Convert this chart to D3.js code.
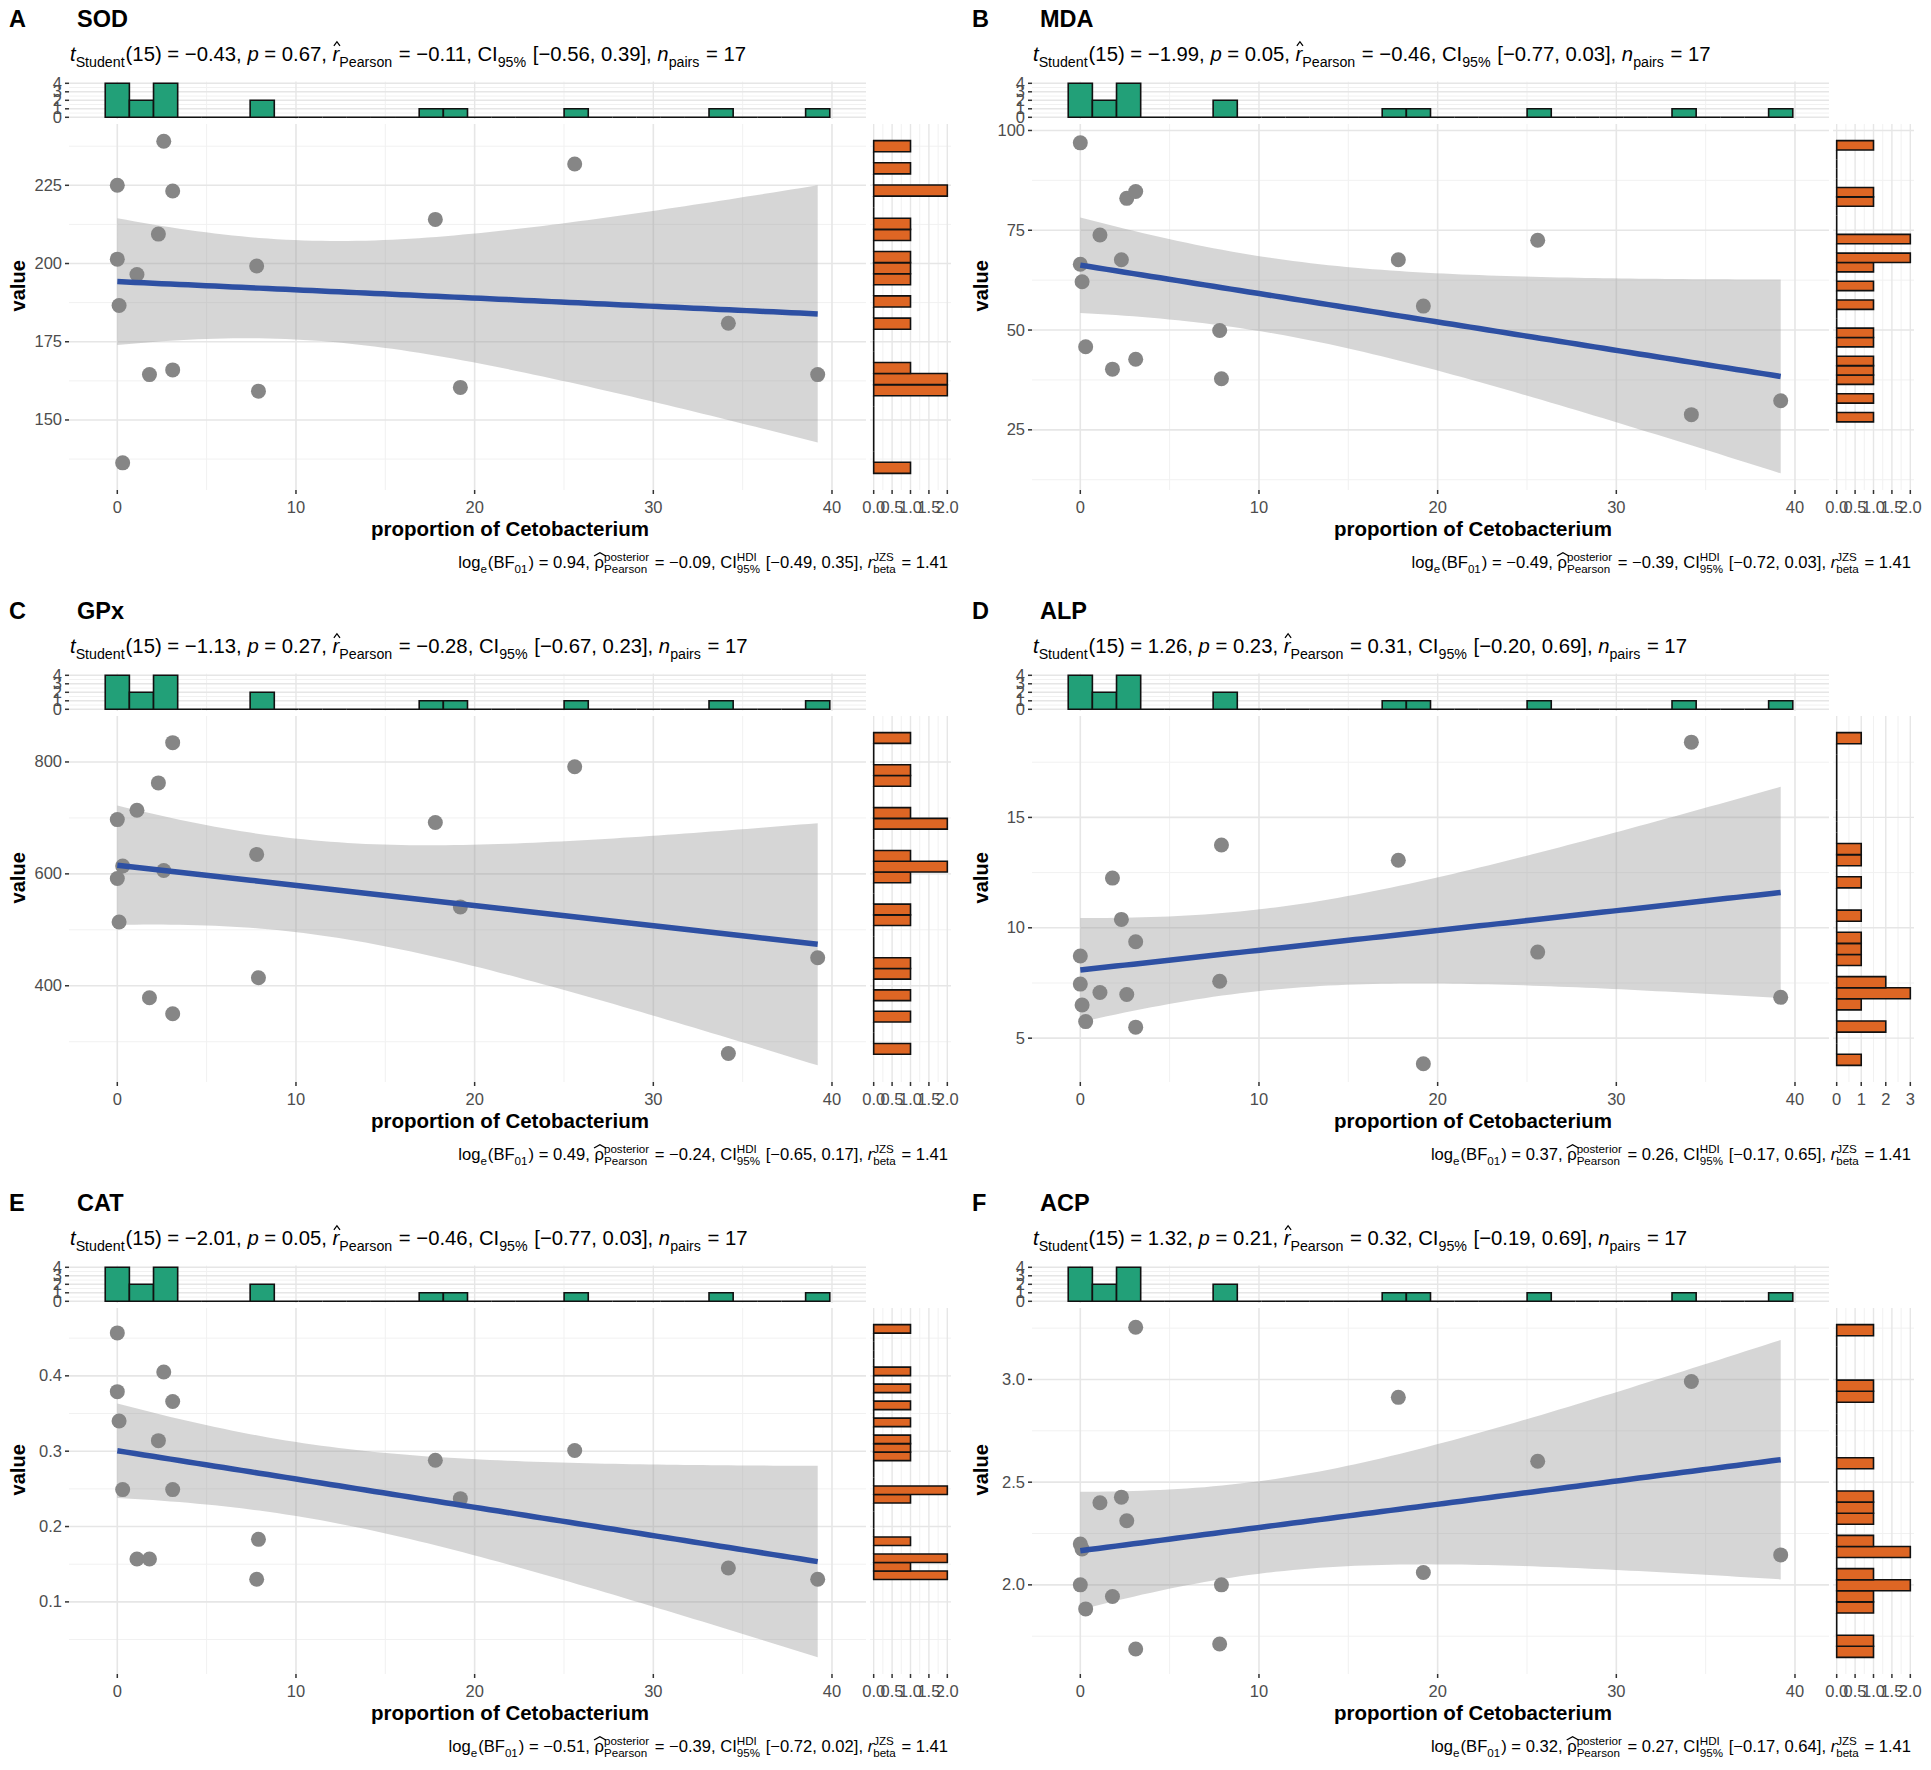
<!DOCTYPE html>
<html>
<head>
<meta charset="utf-8">
<script src="https://cdn.jsdelivr.net/npm/d3@7"></script>
<style>
  body { margin: 0; background: #fff; }
  text { font-family: "Liberation Sans", Arial, sans-serif; white-space: pre; }
</style>
</head>
<body>
<svg id="chart" width="1931" height="1770"></svg>
<script>
// shared x values: proportion of Cetobacterium for the 17 samples
var proportion = [0, 0, 0.1, 0.3, 1.1, 1.8, 2.3, 2.6, 3.1, 3.1, 7.8, 7.9, 17.8, 19.2, 25.6, 34.2, 39.2];

// y values per panel, same sample order as proportion
var sod = [225.0, 201.4, 186.6, 136.3, 196.5, 164.5, 209.4, 239.1, 223.2, 166.0, 199.2, 159.2, 214.1, 160.4, 231.8, 180.9, 164.5];
var mda = [96.9, 66.5, 62.1, 45.8, 73.8, 40.2, 67.6, 83.0, 84.7, 42.7, 49.9, 37.8, 67.6, 56.0, 72.5, 28.8, 32.3];
var gpx = [697.0, 591.7, 514, 614, 713.7, 378.7, 762.6, 606, 834.5, 350, 634.8, 414.4, 691.8, 541, 791.4, 279, 450];
var alp = [8.72, 7.45, 6.50, 5.75, 7.07, 12.25, 10.38, 6.98, 9.37, 5.50, 7.58, 13.75, 13.06, 3.84, 8.90, 18.41, 6.85];
var cat = [0.457, 0.379, 0.340, 0.249, 0.157, 0.157, 0.314, 0.405, 0.366, 0.249, 0.130, 0.183, 0.288, 0.237, 0.301, 0.145, 0.130];
var acp = [2.199, 2.0, 2.175, 1.883, 2.400, 1.943, 2.427, 2.312, 3.254, 1.688, 1.712, 2.0, 2.913, 2.060, 2.602, 2.99, 2.146];

var panelValues = [sod, mda, gpx, alp, cat, acp];
var panelLetters = ["A", "B", "C", "D", "E", "F"];
var panelNames = ["SOD", "MDA", "GPx", "ALP", "CAT", "ACP"];

// frequentist subtitle stats
var tValues = [-0.43, -1.99, -1.13, 1.26, -2.01, 1.32];
var pValues = [0.67, 0.05, 0.27, 0.23, 0.05, 0.21];
var rValues = [-0.11, -0.46, -0.28, 0.31, -0.46, 0.32];
var ciLow = [-0.56, -0.77, -0.67, -0.20, -0.77, -0.19];
var ciHigh = [0.39, 0.03, 0.23, 0.69, 0.03, 0.69];

// bayesian caption stats
var bfValues = [0.94, -0.49, 0.49, 0.37, -0.51, 0.32];
var rhoValues = [-0.09, -0.39, -0.24, 0.26, -0.39, 0.27];
var hdiLow = [-0.49, -0.72, -0.65, -0.17, -0.72, -0.17];
var hdiHigh = [0.35, 0.03, 0.17, 0.65, 0.02, 0.64];

// axis ticks
var xTicks = [0, 10, 20, 30, 40];
var yTicks = [[150, 175, 200, 225], [25, 50, 75, 100], [400, 600, 800], [5, 10, 15], [0.1, 0.2, 0.3, 0.4], [2.0, 2.5, 3.0]];
var yTickLabels = [["150", "175", "200", "225"], ["25", "50", "75", "100"], ["400", "600", "800"], ["5", "10", "15"],
                   ["0.1", "0.2", "0.3", "0.4"], ["2.0", "2.5", "3.0"]];
var topCountTicks = [0, 1, 2, 3, 4];
var rightCountTicks = [[0, 0.5, 1, 1.5, 2], [0, 0.5, 1, 1.5, 2], [0, 0.5, 1, 1.5, 2], [0, 1, 2, 3], [0, 0.5, 1, 1.5, 2], [0, 0.5, 1, 1.5, 2]];
var rightCountLabels = [["0.0", "0.5", "1.0", "1.5", "2.0"], ["0.0", "0.5", "1.0", "1.5", "2.0"], ["0.0", "0.5", "1.0", "1.5", "2.0"],
                        ["0", "1", "2", "3"], ["0.0", "0.5", "1.0", "1.5", "2.0"], ["0.0", "0.5", "1.0", "1.5", "2.0"]];

var xLabel = "proportion of Cetobacterium";
var yLabel = "value";

var green = "#22a078", orange = "#de6624", pointGrey = "#868686", lineBlue = "#2e50a3";
var gridMajor = "#e6e6e6", gridMinor = "#f1f1f1", tickGrey = "#4d4d4d";

var svg = d3.select("#chart");
svg.append("rect").attr("width", 1931).attr("height", 1770).attr("fill", "#fff");

// layout inside one panel
var L = { left: 69, right: 866, top: 124, bottom: 490, topHistTop: 81.6, topHistBottom: 119, rhLeft: 870, rhRight: 951 };

function fmt(v) { return d3.format(".2f")(v).replace("-", "\u2212"); }

// ggplot2 style bins (bins = 30)
function ggBins(vals) {
  var lo = d3.min(vals), hi = d3.max(vals);
  var w = (hi - lo) / 29;
  var origin = w / 2 + Math.floor((lo - w / 2) / w) * w;
  var edges = [];
  for (var e = origin; e <= hi + (1 - 1e-8) * w; e += w) edges.push(e);
  var bins = [];
  for (var k = 0; k < edges.length - 1; k++) bins.push({ x0: edges[k], x1: edges[k + 1], n: 0 });
  vals.forEach(function (v) {
    var idx = Math.ceil((v - origin) / w - 1e-9) - 1;
    idx = Math.max(0, Math.min(bins.length - 1, idx));
    bins[idx].n += 1;
  });
  return bins;
}

// linear model with 95% confidence band, like geom_smooth(method = "lm")
function fitLm(xs, ys) {
  var n = xs.length, mx = d3.mean(xs), my = d3.mean(ys);
  var sxx = d3.sum(xs, function (x) { return (x - mx) * (x - mx); });
  var sxy = d3.sum(xs, function (x, k) { return (x - mx) * (ys[k] - my); });
  var b = sxy / sxx, a = my - b * mx;
  var sse = d3.sum(xs, function (x, k) { var r = ys[k] - a - b * x; return r * r; });
  var s = Math.sqrt(sse / (n - 2));
  var tq = 2.1314; // qt(0.975, 15)
  var x0 = d3.min(xs), x1 = d3.max(xs);
  return d3.range(80).map(function (k) {
    var xv = x0 + k * (x1 - x0) / 79;
    var yh = a + b * xv;
    var se = s * Math.sqrt(1 / n + (xv - mx) * (xv - mx) / sxx);
    return { x: xv, y: yh, lo: yh - tq * se, hi: yh + tq * se };
  });
}

function minors(ticks, domain) {
  var step = ticks[1] - ticks[0], out = [];
  for (var k = -1; k < ticks.length; k++) {
    var m = ticks[0] + step * (k + 0.5);
    if (m >= domain[0] && m <= domain[1]) out.push(m);
  }
  return out;
}

function expand(ext) {
  var d = (ext[1] - ext[0]) * 0.05;
  return [ext[0] - d, ext[1] + d];
}

// text built from pieces: normal, italic, sub, sup/sub stacked, hatted
function richText(g, parts, x, y, size, anchor) {
  var grp = g.append("g");
  var cx = 0, small = size * 0.7;
  parts.forEach(function (p) {
    var kind = p[1] || "n";
    if (kind === "supsub") {
      var a = grp.append("text").attr("x", cx).attr("y", y - size * 0.45).attr("font-size", small).text(p[0]);
      var b = grp.append("text").attr("x", cx).attr("y", y + size * 0.3).attr("font-size", small).text(p[2]);
      cx += Math.max(a.node().getComputedTextLength(), b.node().getComputedTextLength()) + 1;
    } else if (kind === "sub") {
      var t = grp.append("text").attr("x", cx).attr("y", y + size * 0.3).attr("font-size", small).text(p[0]);
      cx += t.node().getComputedTextLength() + 1;
    } else {
      var t2 = grp.append("text").attr("x", cx).attr("y", y).attr("font-size", size).text(p[0]);
      if (kind === "i" || kind === "ihat") t2.attr("font-style", "italic");
      var w = t2.node().getComputedTextLength();
      if (kind === "ihat" || kind === "hat") {
        var hx0 = cx + (kind === "ihat" ? w * 0.2 : -w * 0.05), hx1 = cx + w * (kind === "ihat" ? 1.1 : 1.2);
        var ht = y - size * (kind === "ihat" ? 0.95 : 0.92);
        grp.append("path")
          .attr("d", "M" + hx0 + "," + (ht + size * 0.2) + "L" + ((hx0 + hx1) / 2) + "," + ht + "L" + hx1 + "," + (ht + size * 0.2))
          .attr("fill", "none").attr("stroke", "#000").attr("stroke-width", 1.3);
      }
      cx += w;
    }
  });
  var shift = anchor === "end" ? x - cx : x;
  grp.attr("transform", "translate(" + shift + ",0)");
  return grp;
}

function histPath(x0, y0, x1, y1) {
  return "M" + x0 + "," + y0 + "H" + x1 + "V" + y1 + "H" + x0 + "Z";
}

function drawPanel(i) {
  var ox = (i % 2) * 963, oy = Math.floor(i / 2) * 592;
  var g = svg.append("g").attr("transform", "translate(" + ox + "," + oy + ")");
  var ys = panelValues[i];

  var fit = fitLm(proportion, ys);
  var xBins = ggBins(proportion), yBins = ggBins(ys);

  var xDomain = expand([Math.min(d3.min(proportion), xBins[0].x0), Math.max(d3.max(proportion), xBins[xBins.length - 1].x1)]);
  var yLo = Math.min(d3.min(ys), d3.min(fit, function (d) { return d.lo; }), yBins[0].x0);
  var yHi = Math.max(d3.max(ys), d3.max(fit, function (d) { return d.hi; }), yBins[yBins.length - 1].x1);
  var yDomain = expand([yLo, yHi]);

  var x = d3.scaleLinear().domain(xDomain).range([L.left, L.right]);
  var y = d3.scaleLinear().domain(yDomain).range([L.bottom, L.top]);
  var topDomain = expand([0, 4]);
  var yTop = d3.scaleLinear().domain(topDomain).range([L.topHistBottom, L.topHistTop]);
  var rTicks = rightCountTicks[i];
  var rDomain = expand([0, rTicks[rTicks.length - 1]]);
  var xRight = d3.scaleLinear().domain(rDomain).range([L.rhLeft, L.rhRight]);

  var yt = yTicks[i];

  // ---- grid lines
  var grid = g.append("g");
  function vLines(vals, sc, y0, y1, col, w) {
    grid.selectAll(null).data(vals).enter().append("line")
      .attr("x1", sc).attr("x2", sc).attr("y1", y0).attr("y2", y1)
      .attr("stroke", col).attr("stroke-width", w);
  }
  function hLines(vals, sc, x0, x1, col, w) {
    grid.selectAll(null).data(vals).enter().append("line")
      .attr("y1", sc).attr("y2", sc).attr("x1", x0).attr("x2", x1)
      .attr("stroke", col).attr("stroke-width", w);
  }
  var xMin = minors(xTicks, xDomain), yMin = minors(yt, yDomain);
  // main panel
  vLines(xMin, x, L.top, L.bottom, gridMinor, 1);
  hLines(yMin, y, L.left, L.right, gridMinor, 1);
  vLines(xTicks, x, L.top, L.bottom, gridMajor, 1.6);
  hLines(yt, y, L.left, L.right, gridMajor, 1.6);
  // top histogram
  vLines(xMin, x, L.topHistTop, L.topHistBottom, gridMinor, 1);
  hLines(minors(topCountTicks, topDomain), yTop, L.left, L.right, gridMinor, 1);
  vLines(xTicks, x, L.topHistTop, L.topHistBottom, gridMajor, 1.4);
  hLines(topCountTicks, yTop, L.left, L.right, gridMajor, 1.4);
  // right histogram
  vLines(minors(rTicks, rDomain), xRight, L.top, L.bottom, gridMinor, 1);
  hLines(yMin, y, L.rhLeft, L.rhRight, gridMinor, 1);
  vLines(rTicks, xRight, L.top, L.bottom, gridMajor, 1.4);
  hLines(yt, y, L.rhLeft, L.rhRight, gridMajor, 1.4);

  // ---- marginal histograms
  g.append("g").selectAll("path").data(xBins).enter().append("path")
    .attr("d", function (d) { return histPath(x(d.x0), yTop(0), x(d.x1), yTop(d.n)); })
    .attr("fill", green).attr("stroke", "#111").attr("stroke-width", 1.6);

  g.append("g").selectAll("path").data(yBins).enter().append("path")
    .attr("d", function (d) { return histPath(xRight(0), y(d.x0), xRight(d.n), y(d.x1)); })
    .attr("fill", orange).attr("stroke", "#111").attr("stroke-width", 1.6);

  // ---- confidence band, points, fit line
  g.append("path").datum(fit)
    .attr("d", d3.area().x(function (d) { return x(d.x); }).y0(function (d) { return y(d.lo); }).y1(function (d) { return y(d.hi); }))
    .attr("fill", "#999").attr("fill-opacity", 0.4);

  g.append("g").selectAll("circle").data(ys).enter().append("circle")
    .attr("cx", function (d, k) { return x(proportion[k]); })
    .attr("cy", function (d) { return y(d); })
    .attr("r", 7.5)
    .attr("fill", pointGrey);

  g.append("path").datum(fit)
    .attr("d", d3.line().x(function (d) { return x(d.x); }).y(function (d) { return y(d.y); }))
    .attr("fill", "none").attr("stroke", lineBlue).attr("stroke-width", 5.5);

  // ---- axes
  var axes = g.append("g").attr("fill", tickGrey).attr("font-size", 16.5);
  axes.selectAll(".xt").data(xTicks).enter().append("line")
    .attr("x1", x).attr("x2", x).attr("y1", L.bottom).attr("y2", L.bottom + 4).attr("stroke", "#333").attr("stroke-width", 1.5);
  axes.selectAll(".xl").data(xTicks).enter().append("text")
    .attr("x", x).attr("y", L.bottom + 23).attr("text-anchor", "middle").text(function (d) { return d; });

  axes.selectAll(".rt").data(rTicks).enter().append("line")
    .attr("x1", xRight).attr("x2", xRight).attr("y1", L.bottom).attr("y2", L.bottom + 4).attr("stroke", "#333").attr("stroke-width", 1.5);
  axes.selectAll(".rl").data(rTicks).enter().append("text")
    .attr("x", xRight).attr("y", L.bottom + 23).attr("text-anchor", "middle").text(function (d, k) { return rightCountLabels[i][k]; });

  axes.selectAll(".yt").data(yt).enter().append("line")
    .attr("x1", L.left - 4).attr("x2", L.left).attr("y1", y).attr("y2", y).attr("stroke", "#333").attr("stroke-width", 1.5);
  axes.selectAll(".yl").data(yt).enter().append("text")
    .attr("x", L.left - 7).attr("y", function (d) { return y(d) + 5.5; }).attr("text-anchor", "end")
    .text(function (d, k) { return yTickLabels[i][k]; });

  axes.selectAll(".tt").data(topCountTicks).enter().append("line")
    .attr("x1", L.left - 4).attr("x2", L.left).attr("y1", yTop).attr("y2", yTop).attr("stroke", "#333").attr("stroke-width", 1.5);
  axes.selectAll(".tl").data(topCountTicks).enter().append("text")
    .attr("x", L.left - 7).attr("y", function (d) { return yTop(d) + 5.5; }).attr("text-anchor", "end")
    .text(function (d) { return d; });

  // axis titles
  g.append("text").attr("x", (L.left + L.rhRight) / 2).attr("y", 536).attr("text-anchor", "middle")
    .attr("font-size", 20.5).attr("font-weight", "bold").text(xLabel);
  g.append("text").attr("transform", "translate(25," + ((L.topHistTop + L.bottom) / 2) + ") rotate(-90)")
    .attr("text-anchor", "middle").attr("font-size", 20).attr("font-weight", "bold").text(yLabel);

  // ---- titles
  g.append("text").attr("x", 9).attr("y", 27).attr("font-size", 23.5).attr("font-weight", "bold").text(panelLetters[i]);
  g.append("text").attr("x", 77).attr("y", 27).attr("font-size", 23.5).attr("font-weight", "bold").text(panelNames[i]);

  richText(g, [
    ["t", "i"], ["Student", "sub"], ["(15) = " + fmt(tValues[i]) + ", "],
    ["p", "i"], [" = " + fmt(pValues[i]) + ", "],
    ["r", "ihat"], ["Pearson", "sub"], [" = " + fmt(rValues[i]) + ", CI"], ["95%", "sub"],
    [" [" + fmt(ciLow[i]) + ", " + fmt(ciHigh[i]) + "], "],
    ["n", "i"], ["pairs", "sub"], [" = " + proportion.length]
  ], 70, 61, 20.3, "start");

  richText(g, [
    ["log"], ["e", "sub"], ["(BF"], ["01", "sub"], [") = " + fmt(bfValues[i]) + ", "],
    ["\u03C1", "hat"], ["posterior", "supsub", "Pearson"], [" = " + fmt(rhoValues[i]) + ", CI"],
    ["HDI", "supsub", "95%"], [" [" + fmt(hdiLow[i]) + ", " + fmt(hdiHigh[i]) + "], "],
    ["r", "i"], ["JZS", "supsub", "beta"], [" = 1.41"]
  ], 948, 568, 16.6, "end");
}

for (var i = 0; i < 6; i++) drawPanel(i);
</script>
</body>
</html>
